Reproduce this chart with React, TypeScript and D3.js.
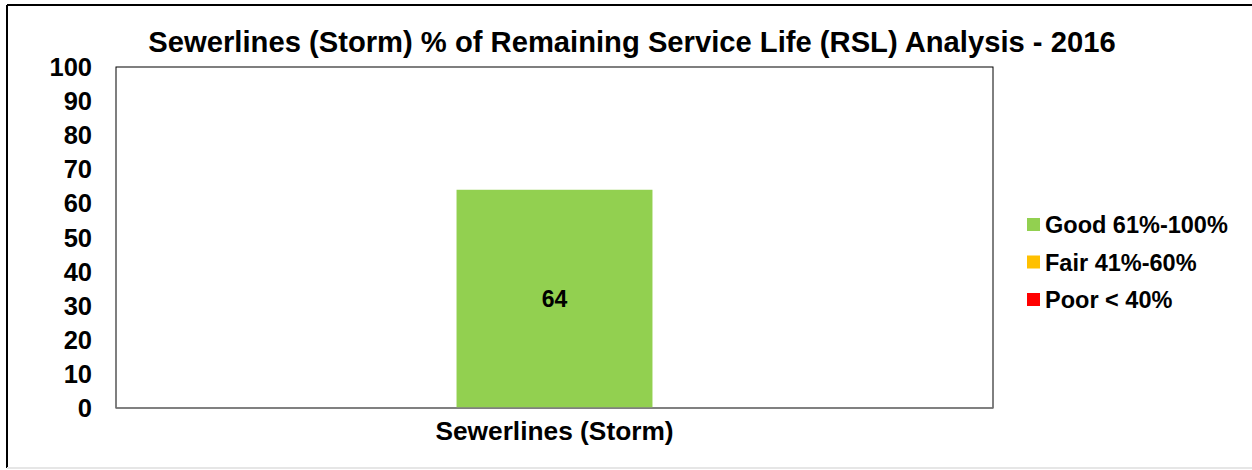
import React from "react";
import * as d3 from "d3";

const categories = ["Sewerlines (Storm)"];
const goodValues = [64];
const yTicks = [0, 10, 20, 30, 40, 50, 60, 70, 80, 90, 100];
const legendLabels = ["Good 61%-100%", "Fair 41%-60%", "Poor < 40%"];
const legendColors = ["#92D050", "#FFC000", "#FF0000"];
const title = "Sewerlines (Storm) % of Remaining Service Life (RSL) Analysis - 2016";

const W = 1252;
const H = 470;
const plot = { left: 116, right: 993, top: 67, bottom: 408 };
const FONT = "'Liberation Sans', Arial, sans-serif";

export default function App() {
  const x = d3
    .scaleBand<string>()
    .domain(categories)
    .range([plot.left, plot.right])
    .paddingInner(0.5)
    .paddingOuter(0.869);
  const y = d3.scaleLinear().domain([0, 100]).range([plot.bottom, plot.top]);

  return (
    <svg
      width={W}
      height={H}
      style={{ position: "absolute", left: 0, top: 0, background: "#fff" }}
    >
      <rect x={0} y={0} width={W} height={H} fill="#fff" />
      {/* outer border */}
      <line x1={7} y1={5} x2={W} y2={5} stroke="#000" strokeWidth={2} />
      <line x1={7} y1={5} x2={7} y2={468} stroke="#000" strokeWidth={2} />
      <line x1={7} y1={468} x2={W} y2={468} stroke="#e6e6e6" strokeWidth={2} />

      <text
        x={632}
        y={52}
        textAnchor="middle"
        fontFamily={FONT}
        fontWeight="bold"
        fontSize={29.2}
        fill="#000"
      >
        {title}
      </text>

      {/* plot frame */}
      <rect
        x={plot.left}
        y={plot.top}
        width={plot.right - plot.left}
        height={plot.bottom - plot.top}
        fill="#fff"
        stroke="#000"
        strokeWidth={1}
      />

      {categories.map((c, i) => (
        <g key={c}>
          <rect
            x={x(c)!}
            y={y(goodValues[i])}
            width={x.bandwidth()}
            height={y(0) - y(goodValues[i])}
            fill="#92D050"
          />
          <text
            x={x(c)! + x.bandwidth() / 2}
            y={(y(goodValues[i]) + y(0)) / 2 + 8}
            textAnchor="middle"
            fontFamily={FONT}
            fontWeight="bold"
            fontSize={23}
            fill="#000"
          >
            {goodValues[i]}
          </text>
          <text
            x={x(c)! + x.bandwidth() / 2}
            y={440}
            textAnchor="middle"
            fontFamily={FONT}
            fontWeight="bold"
            fontSize={26.3}
            fill="#000"
          >
            {c}
          </text>
        </g>
      ))}

      {/* x axis line */}
      <line
        x1={plot.left}
        y1={y(0)}
        x2={plot.right}
        y2={y(0)}
        stroke="#808080"
        strokeWidth={1.5}
      />

      {yTicks.map((t) => (
        <text
          key={t}
          x={92}
          y={y(t) + 9}
          textAnchor="end"
          fontFamily={FONT}
          fontWeight="bold"
          fontSize={25.5}
          fill="#000"
        >
          {t}
        </text>
      ))}

      {legendLabels.map((l, i) => (
        <g key={l}>
          <rect x={1027} y={218 + i * 37.5} width={13} height={13} fill={legendColors[i]} />
          <text
            x={1045}
            y={233 + i * 37.5}
            fontFamily={FONT}
            fontWeight="bold"
            fontSize={23.5}
            fill="#000"
          >
            {l}
          </text>
        </g>
      ))}
    </svg>
  );
}
